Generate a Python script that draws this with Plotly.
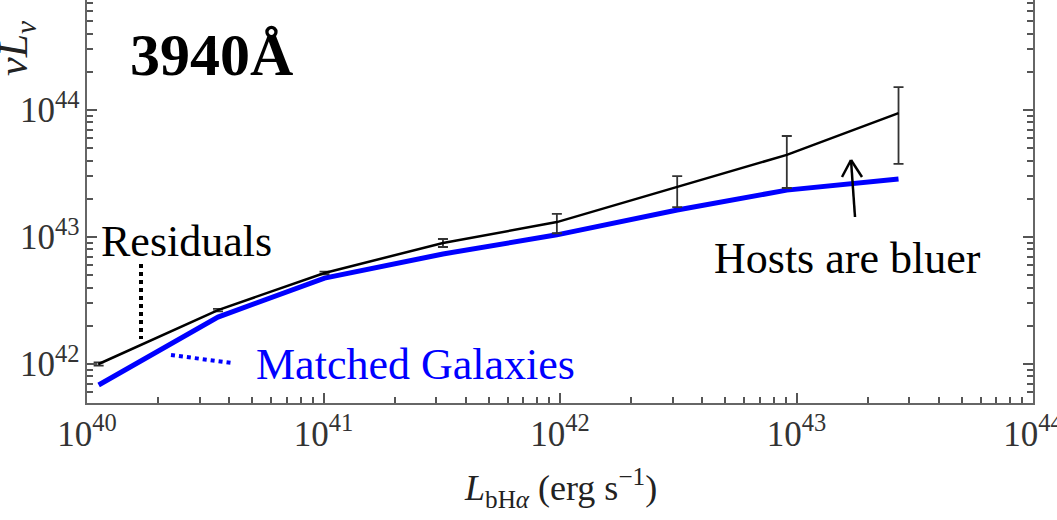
import plotly.graph_objects as go

# ---- data ----
x_lbha = [1.12e40, 3.58e40, 1.01e41, 3.2e41, 9.7e41, 3.13e42, 9.1e42, 2.7e43]
y_resid = [1.0e42, 2.66e42, 5.21e42, 8.97e42, 1.31e43, 2.48e43, 4.43e43, 9.46e43]
err_up = [0.03e42, 0.06e42, 0.12e42, 0.67e42, 0.21e43, 0.54e43, 1.81e43, 5.7e43]
err_dn = [0.03e42, 0.06e42, 0.12e42, 0.63e42, 0.24e43, 0.76e43, 2.0e43, 5.7e43]
y_matched = [6.84e41, 2.34e42, 4.75e42, 7.35e42, 1.04e43, 1.63e43, 2.34e43, 2.86e43]

W, H = 1057, 520
L, R, T, B = 87, 1033, 0, 403  # plot area in pixels


def px(x):
    return (x - L) / (R - L)


def py(y):
    return (B - y) / (B - T)


FONT = "Liberation Serif"

fig = go.Figure()
fig.add_trace(go.Scatter(
    x=x_lbha, y=y_matched, mode="lines",
    line=dict(color="#0000ff", width=5), showlegend=False))
fig.add_trace(go.Scatter(
    x=x_lbha, y=y_resid, mode="lines",
    line=dict(color="black", width=2.5), showlegend=False,
    error_y=dict(type="data", symmetric=False, array=err_up, arrayminus=err_dn,
                 color="#333333", thickness=1.8, width=5)))

axis_common = dict(
    type="log", showgrid=False, zeroline=False, automargin=False,
    showline=True, linecolor="#666666", linewidth=2,
    ticks="inside", ticklen=10, tickwidth=1.5, tickcolor="#555555",
    dtick=1, exponentformat="power", ticklabeloverflow="allow",
    tickfont=dict(family=FONT, size=28, color="#333333"),
    minor=dict(ticks="inside", ticklen=6, tickwidth=1.5, tickcolor="#555555",
               dtick="D1", showgrid=False),
)

fig.update_layout(
    width=W, height=H,
    margin=dict(l=L, r=W - R, t=T, b=H - B),
    paper_bgcolor="white", plot_bgcolor="white",
    xaxis=dict(axis_common, range=[40, 44], mirror=False),
    yaxis=dict(axis_common, range=[41.693, 44.866], mirror="allticks"),
)

ann = [
    dict(text="<b>3940Å</b>", x=px(211), y=py(55), size=60, color="black"),
    dict(text="Residuals", x=px(186), y=py(241), size=44, color="black"),
    dict(text="Hosts are bluer", x=px(847), y=py(258), size=44, color="black"),
    dict(text="Matched Galaxies", x=px(415), y=py(364), size=44, color="#0000ff"),
    dict(text="<i>L</i><sub>bH<i>α</i></sub> (erg s<sup>−1</sup>)", x=px(560), y=py(488),
         size=36, color="#222222"),
]
for a in ann:
    fig.add_annotation(text=a["text"], x=a["x"], y=a["y"], xref="paper", yref="paper",
                       showarrow=False, xanchor="center", yanchor="middle",
                       font=dict(family=FONT, size=a["size"], color=a["color"]))

# y axis title (rotated, partly cut at the top)
fig.add_annotation(text="<i>νL<sub>ν</sub></i>", x=px(16), y=py(78), xref="paper", yref="paper",
                   showarrow=False, textangle=-90, xanchor="center", yanchor="bottom",
                   font=dict(family=FONT, size=42, color="#222222"))

# decorations: dotted pointers and arrow
fig.add_shape(type="line", xref="paper", yref="paper", x0=px(141), y0=py(264), x1=px(141), y1=py(339),
              line=dict(color="black", width=4, dash="dot"))
fig.add_shape(type="line", xref="paper", yref="paper", x0=px(171), y0=py(355), x1=px(232), y1=py(363),
              line=dict(color="#0000ff", width=4, dash="dot"))
fig.add_shape(type="line", xref="paper", yref="paper", x0=px(855), y0=py(217), x1=px(851), y1=py(160),
              line=dict(color="black", width=2.5))
fig.add_shape(type="line", xref="paper", yref="paper", x0=px(842), y0=py(177), x1=px(851), y1=py(160),
              line=dict(color="black", width=2.5))
fig.add_shape(type="line", xref="paper", yref="paper", x0=px(862), y0=py(177), x1=px(851), y1=py(160),
              line=dict(color="black", width=2.5))

fig.write_html("out.html", config={"displayModeBar": False},
               post_script="document.body.style.margin='0';document.body.style.overflow='hidden';")
